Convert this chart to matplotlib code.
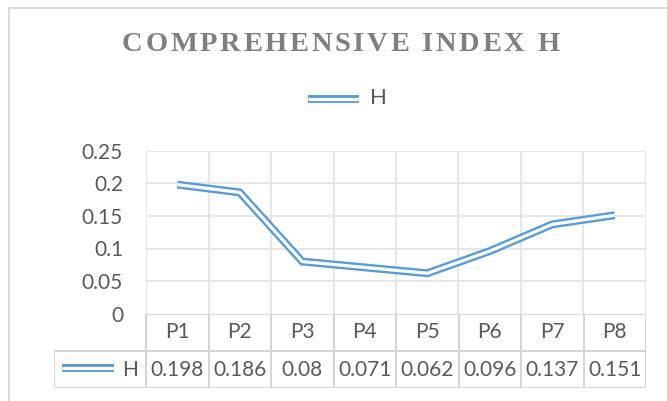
import matplotlib
matplotlib.use("Agg")
import matplotlib.pyplot as plt
from matplotlib.lines import Line2D
from matplotlib.patches import Rectangle
from matplotlib import font_manager
from matplotlib.ft2font import FT2Font

# ---- data ----
categories = ["P1", "P2", "P3", "P4", "P5", "P6", "P7", "P8"]
h_values = [0.198, 0.186, 0.08, 0.071, 0.062, 0.096, 0.137, 0.151]
h_labels = ["0.198", "0.186", "0.08", "0.071", "0.062", "0.096", "0.137", "0.151"]
y_ticks = [0, 0.05, 0.1, 0.15, 0.2, 0.25]
y_tick_labels = ["0", "0.05", "0.1", "0.15", "0.2", "0.25"]
series_name = "H"
title = "COMPREHENSIVE INDEX H"

W, H = 667, 401
BLUE = "#5B9BD5"
TXT = "#595959"
GRID = "#e3e3e3"
TBL = "#d4d4d4"
FONT = "Lato"
FS = 15

fig = plt.figure(figsize=(W / 100, H / 100), dpi=100)
fig.patch.set_facecolor("white")


def fx(x):
    return x / W


def fy(y):
    return 1 - y / H


# chart border (cut by the image edges)
border = Rectangle((fx(9), fy(700)), fx(700), fy(8) - fy(700), transform=fig.transFigure,
                   fill=False, edgecolor="#d9d9d9", lw=1.3)
fig.add_artist(border)

# ---- plot area ----
pl, pr, pt, pb = 146, 646, 150.7, 313.7
ax = fig.add_axes([fx(pl), fy(pb), fx(pr - pl), fy(pt) - fy(pb)])
n = len(categories)
ax.set_xlim(-0.5, n - 0.5)
ax.set_ylim(0, 0.25)
for s in ax.spines.values():
    s.set_visible(False)
ax.set_yticks(y_ticks)
ax.set_yticklabels(y_tick_labels, fontfamily=FONT, fontsize=FS, color=TXT)
ax.tick_params(axis="y", length=0, pad=16.5)
ax.set_xticks([])
for yv in y_ticks[1:]:
    ax.axhline(yv, color=GRID, lw=1.2, zorder=1)
for i in range(n + 1):
    ax.axvline(i - 0.5, color=GRID, lw=1.2, zorder=1)

xs = list(range(n))
ax.plot(xs, h_values, color=BLUE, lw=5.7, solid_joinstyle="miter", solid_capstyle="butt", zorder=3)
ax.plot(xs, h_values, color="white", lw=2.3, solid_joinstyle="miter", solid_capstyle="butt", zorder=4)

# ---- data table ----
tl = 54
colw = (pr - pl) / n
extra = (pl - tl) / colw
tb_top, tb_mid, tb_bot = 314, 350.7, 388
tab = fig.add_axes([fx(tl), fy(tb_bot), fx(pr - tl), fy(tb_top) - fy(tb_bot)])
tab.set_xlim(-0.5 - extra, n - 0.5)
tab.set_ylim(0, 2)
tab.axis("off")
lk = dict(color=TBL, lw=1.4, solid_capstyle="projecting")
tab.plot([-0.5, n - 0.5], [2, 2], **lk)
tab.plot([-0.5 - extra, n - 0.5], [1, 1], **lk)
tab.plot([-0.5 - extra, n - 0.5], [0, 0], **lk)
for i in range(n + 1):
    tab.plot([i - 0.5, i - 0.5], [0, 2], **lk)
tab.plot([-0.5 - extra, -0.5 - extra], [0, 1], **lk)
for i, (c, v) in enumerate(zip(categories, h_labels)):
    tab.text(i, 1.5, c, ha="center", va="center", fontfamily=FONT, fontsize=FS, color=TXT)
    tab.text(i, 0.5, v, ha="center", va="center", fontfamily=FONT, fontsize=FS, color=TXT)
tab.text(-0.5 - 0.13, 0.5, series_name, ha="right", va="center", fontfamily=FONT, fontsize=FS, color=TXT)


def double_line(x0, x1, y):
    fig.add_artist(Line2D([fx(x0), fx(x1)], [fy(y), fy(y)], transform=fig.transFigure,
                          color=BLUE, lw=5.7, solid_capstyle="butt"))
    fig.add_artist(Line2D([fx(x0), fx(x1)], [fy(y), fy(y)], transform=fig.transFigure,
                          color="white", lw=2.3, solid_capstyle="butt"))


double_line(61.7, 114, 368.3)

# ---- legend on top ----
double_line(308, 359, 99.2)
fig.text(fx(370), fy(98.5), series_name, ha="left", va="center", fontfamily=FONT, fontsize=16, color=TXT)

# ---- title with letter spacing ----
tsize = 20.5
tprop = font_manager.FontProperties(family="Liberation Serif", weight="bold", size=tsize)
x_start, x_end = 122, 557
try:
    ft = FT2Font(font_manager.findfont(tprop))
    ft.set_size(tsize, 100)
    advs = []
    for ch in title:
        g = ft.load_char(ord(ch))
        advs.append(g.linearHoriAdvance / 65536.0)
    natural = sum(advs[:-1]) + advs[-1] * 0.9
    spacing = ((x_end - x_start) - natural) / (len(title) - 1)
    x = x_start
    for ch, a in zip(title, advs):
        if ch != " ":
            fig.text(fx(x), fy(51), ch, ha="left", va="baseline", fontproperties=tprop, color="#7f7f7f")
        x += a + spacing
except Exception:
    fig.text(fx(340), fy(51), title, ha="center", va="baseline", fontproperties=tprop, color="#7f7f7f")

fig.savefig("out.png", dpi=100, facecolor="white")
